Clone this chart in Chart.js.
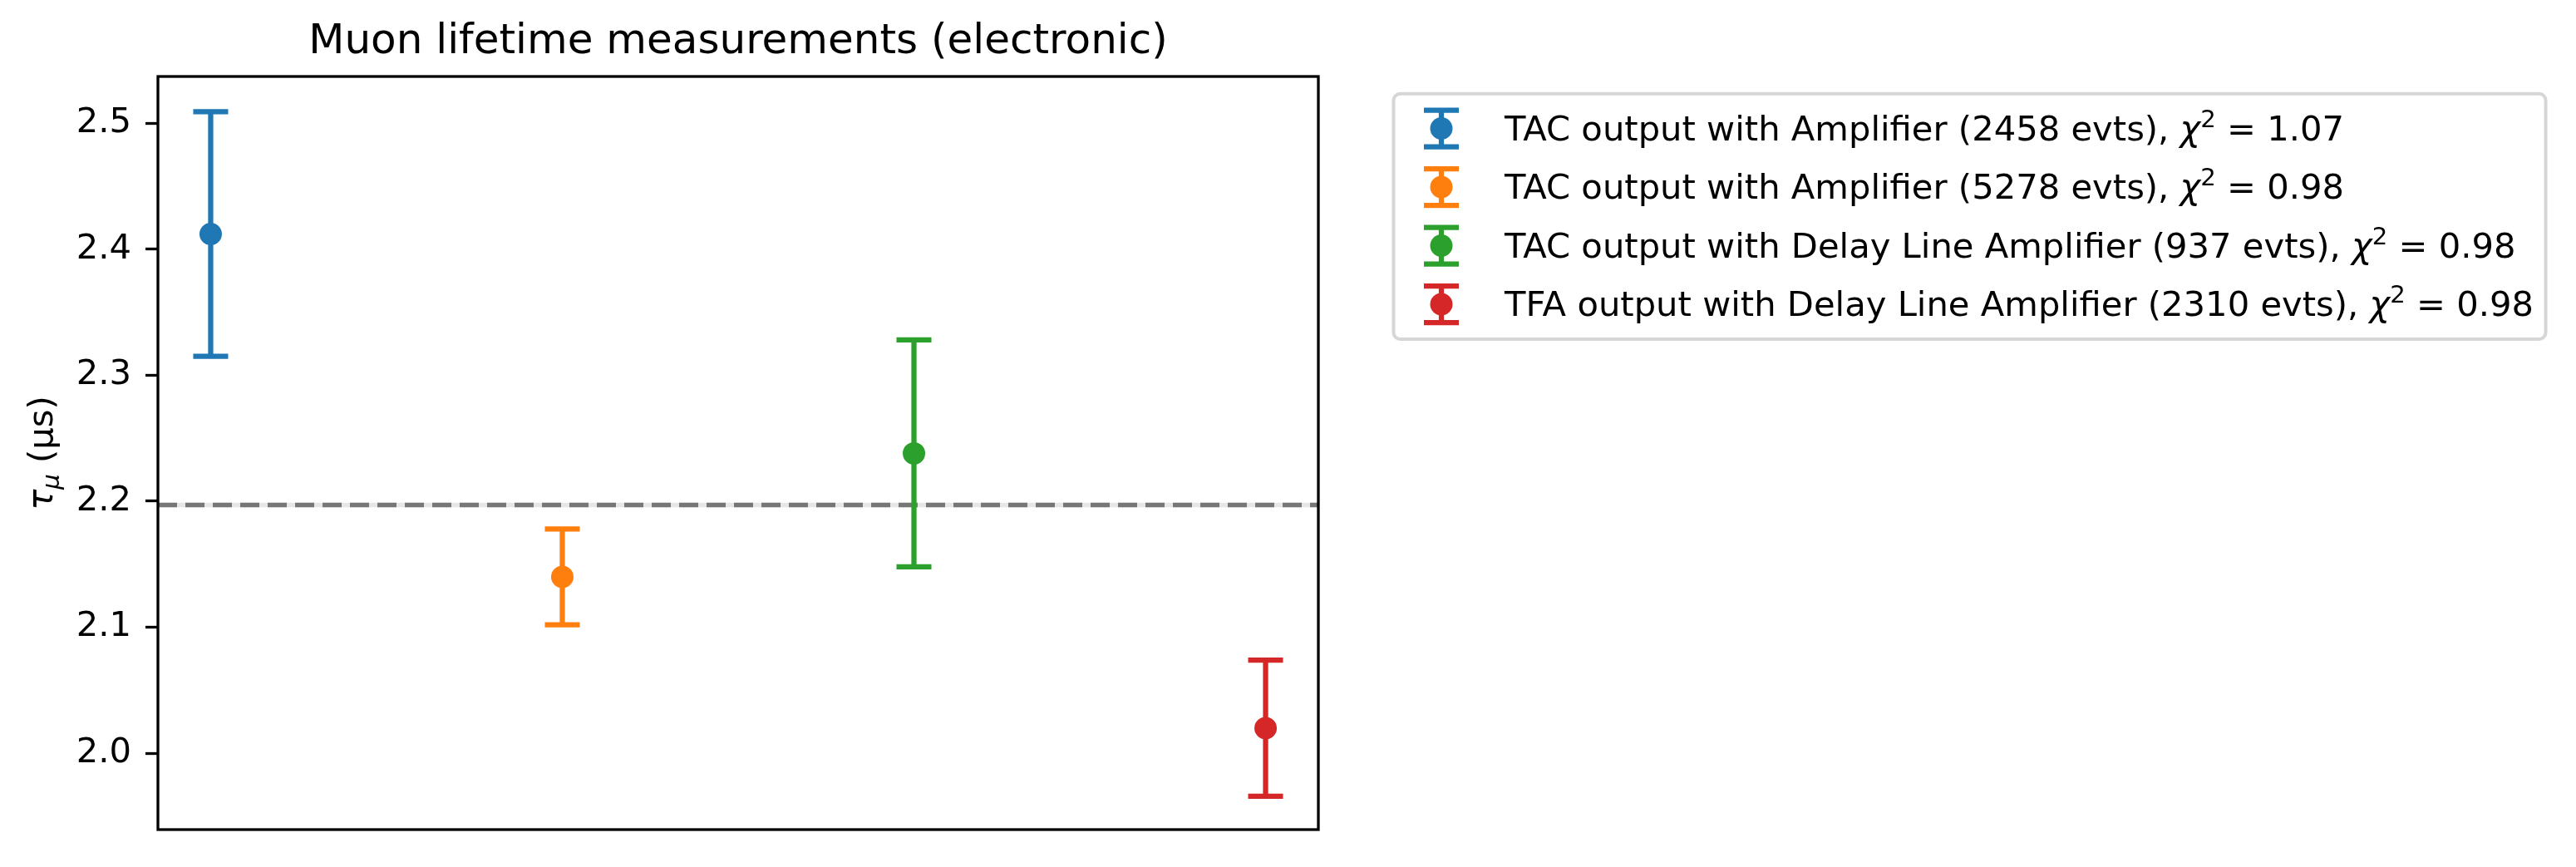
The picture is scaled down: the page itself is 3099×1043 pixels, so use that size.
<!DOCTYPE html>
<html><head><meta charset="utf-8">
<script src="https://cdn.jsdelivr.net/npm/chart.js@4.4.1/dist/chart.umd.min.js"></script>
<style>html,body{margin:0;padding:0;background:#fff}#wrap{width:3099px;height:1043px;position:relative}</style>
</head><body><div id="wrap"><canvas id="c" width="3099" height="1043"></canvas></div>
<script>
// ---- data ----
const seriesLabels = [
  'TAC output with Amplifier (2458 evts)',
  'TAC output with Amplifier (5278 evts)',
  'TAC output with Delay Line Amplifier (937 evts)',
  'TFA output with Delay Line Amplifier (2310 evts)'
];
const chiSquared = ['1.07', '0.98', '0.98', '0.98'];
const xPositions = [0, 1, 2, 3];
const lifetimes = [2.412, 2.140, 2.238, 2.020];
const lifetimeErrors = [0.097, 0.038, 0.090, 0.054];
const referenceLifetime = 2.197;
const yTicks = [2.0, 2.1, 2.2, 2.3, 2.4, 2.5];
const seriesColors = ['#1f77b4', '#ff7f0e', '#2ca02c', '#d62728'];
const titleText = 'Muon lifetime measurements (electronic)';
const yLabelParts = [
  { t: 'τ', italic: true, scale: 1, dy: 0 },
  { t: 'μ', italic: true, scale: 0.7, dy: 8 },
  { t: ' (μs)', italic: false, scale: 1, dy: 0 }
];

const FONT = "'DejaVu Sans'";
const FS = 41.7;

const refLinePlugin = {
  id: 'refAndErrors',
  beforeDatasetsDraw(chart) {
    const { ctx, chartArea: a, scales: { x, y } } = chart;
    ctx.save();
    const yr = y.getPixelForValue(referenceLifetime);
    ctx.strokeStyle = '#e6e6e6';
    ctx.lineWidth = 5.5;
    ctx.beginPath(); ctx.moveTo(a.left, yr); ctx.lineTo(a.right, yr); ctx.stroke();
    ctx.strokeStyle = '#777777';
    ctx.setLineDash([23, 10]);
    ctx.beginPath(); ctx.moveTo(a.left, yr); ctx.lineTo(a.right, yr); ctx.stroke();
    ctx.setLineDash([]);
    lifetimes.forEach((v, i) => {
      const px = x.getPixelForValue(xPositions[i]);
      const y1 = y.getPixelForValue(v + lifetimeErrors[i]);
      const y2 = y.getPixelForValue(v - lifetimeErrors[i]);
      ctx.strokeStyle = seriesColors[i];
      ctx.lineWidth = 6.25;
      ctx.lineCap = 'butt';
      ctx.beginPath(); ctx.moveTo(px, y1); ctx.lineTo(px, y2); ctx.stroke();
      ctx.beginPath();
      ctx.moveTo(px - 21, y1); ctx.lineTo(px + 21, y1);
      ctx.moveTo(px - 21, y2); ctx.lineTo(px + 21, y2);
      ctx.stroke();
    });
    ctx.restore();
  },
  afterDraw(chart) {
    const { ctx, chartArea: a } = chart;
    ctx.save();
    // frame
    ctx.strokeStyle = '#000';
    ctx.lineWidth = 3.3;
    ctx.strokeRect(a.left, a.top, a.right - a.left, a.bottom - a.top);

    // y label with subscript
    ctx.fillStyle = '#000';
    ctx.textBaseline = 'alphabetic';
    ctx.textAlign = 'left';
    let total = 0;
    yLabelParts.forEach(p => {
      ctx.font = (p.italic ? 'italic ' : '') + (FS * p.scale) + 'px ' + FONT;
      total += ctx.measureText(p.t).width;
    });
    ctx.translate(62.6, (a.top + a.bottom) / 2);
    ctx.rotate(-Math.PI / 2);
    let cx = -total / 2;
    yLabelParts.forEach(p => {
      ctx.font = (p.italic ? 'italic ' : '') + (FS * p.scale) + 'px ' + FONT;
      ctx.fillText(p.t, cx, p.dy);
      cx += ctx.measureText(p.t).width;
    });
    ctx.restore();

    // legend
    ctx.save();
    const boxLeft = a.right + 90.5, boxTop = a.top + 20.7;
    const rowGap = 70.5, base0 = a.top + 76.5;
    const iconX = a.right + 148, textX = a.right + 224;
    let maxW = 0;
    const rows = seriesLabels.map((lab, i) => {
      const parts = [
        { t: lab + ', ', italic: false, size: FS, dy: 0 },
        { t: 'χ', italic: true, size: FS, dy: 0 },
        { t: '2', italic: false, size: FS * 0.7, dy: -16 },
        { t: ' = ' + chiSquared[i], italic: false, size: FS, dy: 0 }
      ];
      let w = 0;
      parts.forEach(p => { ctx.font = (p.italic ? 'italic ' : '') + p.size + 'px ' + FONT; p.w = ctx.measureText(p.t).width; w += p.w; });
      maxW = Math.max(maxW, w);
      return parts;
    });
    const boxRight = textX + maxW + 14.5;
    const boxBottom = base0 + rowGap * 3 + 28;
    const r = 8;
    ctx.beginPath();
    ctx.moveTo(boxLeft + r, boxTop);
    ctx.arcTo(boxRight, boxTop, boxRight, boxBottom, r);
    ctx.arcTo(boxRight, boxBottom, boxLeft, boxBottom, r);
    ctx.arcTo(boxLeft, boxBottom, boxLeft, boxTop, r);
    ctx.arcTo(boxLeft, boxTop, boxRight, boxTop, r);
    ctx.closePath();
    ctx.fillStyle = 'rgba(255,255,255,0.8)';
    ctx.fill();
    ctx.strokeStyle = '#d6d6d6';
    ctx.lineWidth = 4;
    ctx.stroke();
    rows.forEach((parts, i) => {
      const base = base0 + rowGap * i;
      const cy = base - 14;
      ctx.strokeStyle = seriesColors[i];
      ctx.fillStyle = seriesColors[i];
      ctx.lineWidth = 6.25;
      ctx.beginPath();
      ctx.moveTo(iconX, cy - 22); ctx.lineTo(iconX, cy + 22);
      ctx.moveTo(iconX - 21, cy - 22); ctx.lineTo(iconX + 21, cy - 22);
      ctx.moveTo(iconX - 21, cy + 22); ctx.lineTo(iconX + 21, cy + 22);
      ctx.stroke();
      ctx.beginPath(); ctx.arc(iconX, cy, 13.5, 0, Math.PI * 2); ctx.fill();
      ctx.fillStyle = '#000';
      let tx = textX;
      parts.forEach(p => {
        ctx.font = (p.italic ? 'italic ' : '') + p.size + 'px ' + FONT;
        ctx.fillText(p.t, tx, base + p.dy);
        tx += p.w;
      });
    });
    ctx.restore();
  }
};

new Chart(document.getElementById('c'), {
  type: 'scatter',
  data: {
    datasets: seriesLabels.map((lab, i) => ({
      label: lab + ', χ² = ' + chiSquared[i],
      data: [{ x: xPositions[i], y: lifetimes[i] }],
      backgroundColor: seriesColors[i],
      borderColor: seriesColors[i],
      pointRadius: 12.5,
      pointBorderWidth: 2,
      showLine: false
    }))
  },
  options: {
    responsive: false,
    animation: false,
    devicePixelRatio: 1,
    events: [],
    layout: { padding: { top: 0, right: 1513, bottom: 45, left: 0 } },
    plugins: {
      legend: { display: false },
      tooltip: { enabled: false },
      title: {
        display: true, text: titleText, fullSize: false, color: '#000',
        font: { family: FONT, size: 50, weight: 'normal' },
        padding: { top: 21, bottom: 11 }
      }
    },
    scales: {
      x: { type: 'linear', min: -0.15, max: 3.15, display: false },
      y: {
        type: 'linear', min: 1.9395, max: 2.537,
        afterBuildTicks(scale) { scale.ticks = yTicks.map(v => ({ value: v })); },
        afterFit(scale) { scale.width = 190; },
        border: { display: false },
        grid: { drawOnChartArea: false, drawTicks: true, tickLength: 15, tickWidth: 3.3, tickColor: '#000' },
        ticks: {
          color: '#000', padding: 17,
          font: { family: FONT, size: FS },
          callback: v => Number(v).toFixed(1)
        }
      }
    }
  },
  plugins: [refLinePlugin]
});
</script>
</body></html>
